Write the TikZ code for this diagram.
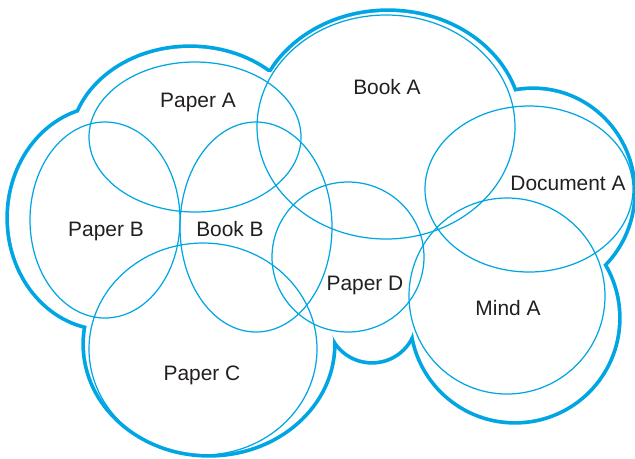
\documentclass[tikz,border=0pt]{standalone}
\usepackage{fontspec}
\setmainfont{Liberation Sans}

\definecolor{setblue}{RGB}{0,166,228}
\definecolor{labelgray}{RGB}{35,31,32}

\tikzset{
    setline/.style={draw=setblue, line width=0.7pt},
    cloudline/.style={draw=setblue, line width=4.2pt},
    cloudfill/.style={fill=white, draw=none},
    setlabel/.style={anchor=base, text=labelgray, inner sep=0pt, font=\fontsize{11.9}{14}\selectfont},
}

\begin{document}
\begin{tikzpicture}[x=0.02cm, y=-0.02cm]
            \useasboundingbox (0,0) rectangle (635,458);

            % outer cloud: thick strokes, then white fill of the union
            \draw[cloudline] (190,145) ellipse [x radius=118, y radius=97];
            \draw[cloudline] (388,125) ellipse [x radius=132, y radius=113];
            \draw[cloudline] (533,192) ellipse [x radius=100, y radius=102];
            \draw[cloudline] (515,318) ellipse [x radius=103, y radius=103];
            \draw[cloudline] (372,318) ellipse [x radius=43, y radius=43];
            \draw[cloudline] (209,344) ellipse [x radius=124, y radius=110];
            \draw[cloudline] (106,218) ellipse [x radius=97, y radius=110];

            \fill[cloudfill] (190,145) ellipse [x radius=118, y radius=97];
            \fill[cloudfill] (388,125) ellipse [x radius=132, y radius=113];
            \fill[cloudfill] (533,192) ellipse [x radius=100, y radius=102];
            \fill[cloudfill] (515,318) ellipse [x radius=103, y radius=103];
            \fill[cloudfill] (372,318) ellipse [x radius=43, y radius=43];
            \fill[cloudfill] (209,344) ellipse [x radius=124, y radius=110];
            \fill[cloudfill] (106,218) ellipse [x radius=97, y radius=110];
            \fill[cloudfill] (268,72) -- (514,98) -- (601,266) -- (413,322)
                -- (333,327) -- (88,325) -- (88,111) -- cycle;

            % the sets
            \draw[setline] (195,137) ellipse [x radius=106, y radius=75];
            \draw[setline] (386,127) ellipse [x radius=129, y radius=112];
            \draw[setline] (529,189) ellipse [x radius=104, y radius=83];
            \draw[setline] (105,220) ellipse [x radius=75, y radius=98];
            \draw[setline] (256,227) ellipse [x radius=76, y radius=105];
            \draw[setline] (203,349) ellipse [x radius=114, y radius=106];
            \draw[setline] (348,257) ellipse [x radius=76, y radius=75];
            \draw[setline] (507,296) ellipse [x radius=98, y radius=98];

            \node[setlabel] (paperA) at (198,107) {Paper A};
            \node[setlabel] (bookA) at (387,94) {Book A};
            \node[setlabel] (documentA) at (568,190) {Document A};
            \node[setlabel] (paperB) at (106,236) {Paper B};
            \node[setlabel] (bookB) at (230,236) {Book B};
            \node[setlabel] (paperD) at (365,290) {Paper D};
            \node[setlabel] (mindA) at (508,315) {Mind A};
            \node[setlabel] (paperC) at (202,380) {Paper C};
\end{tikzpicture}
\end{document}
